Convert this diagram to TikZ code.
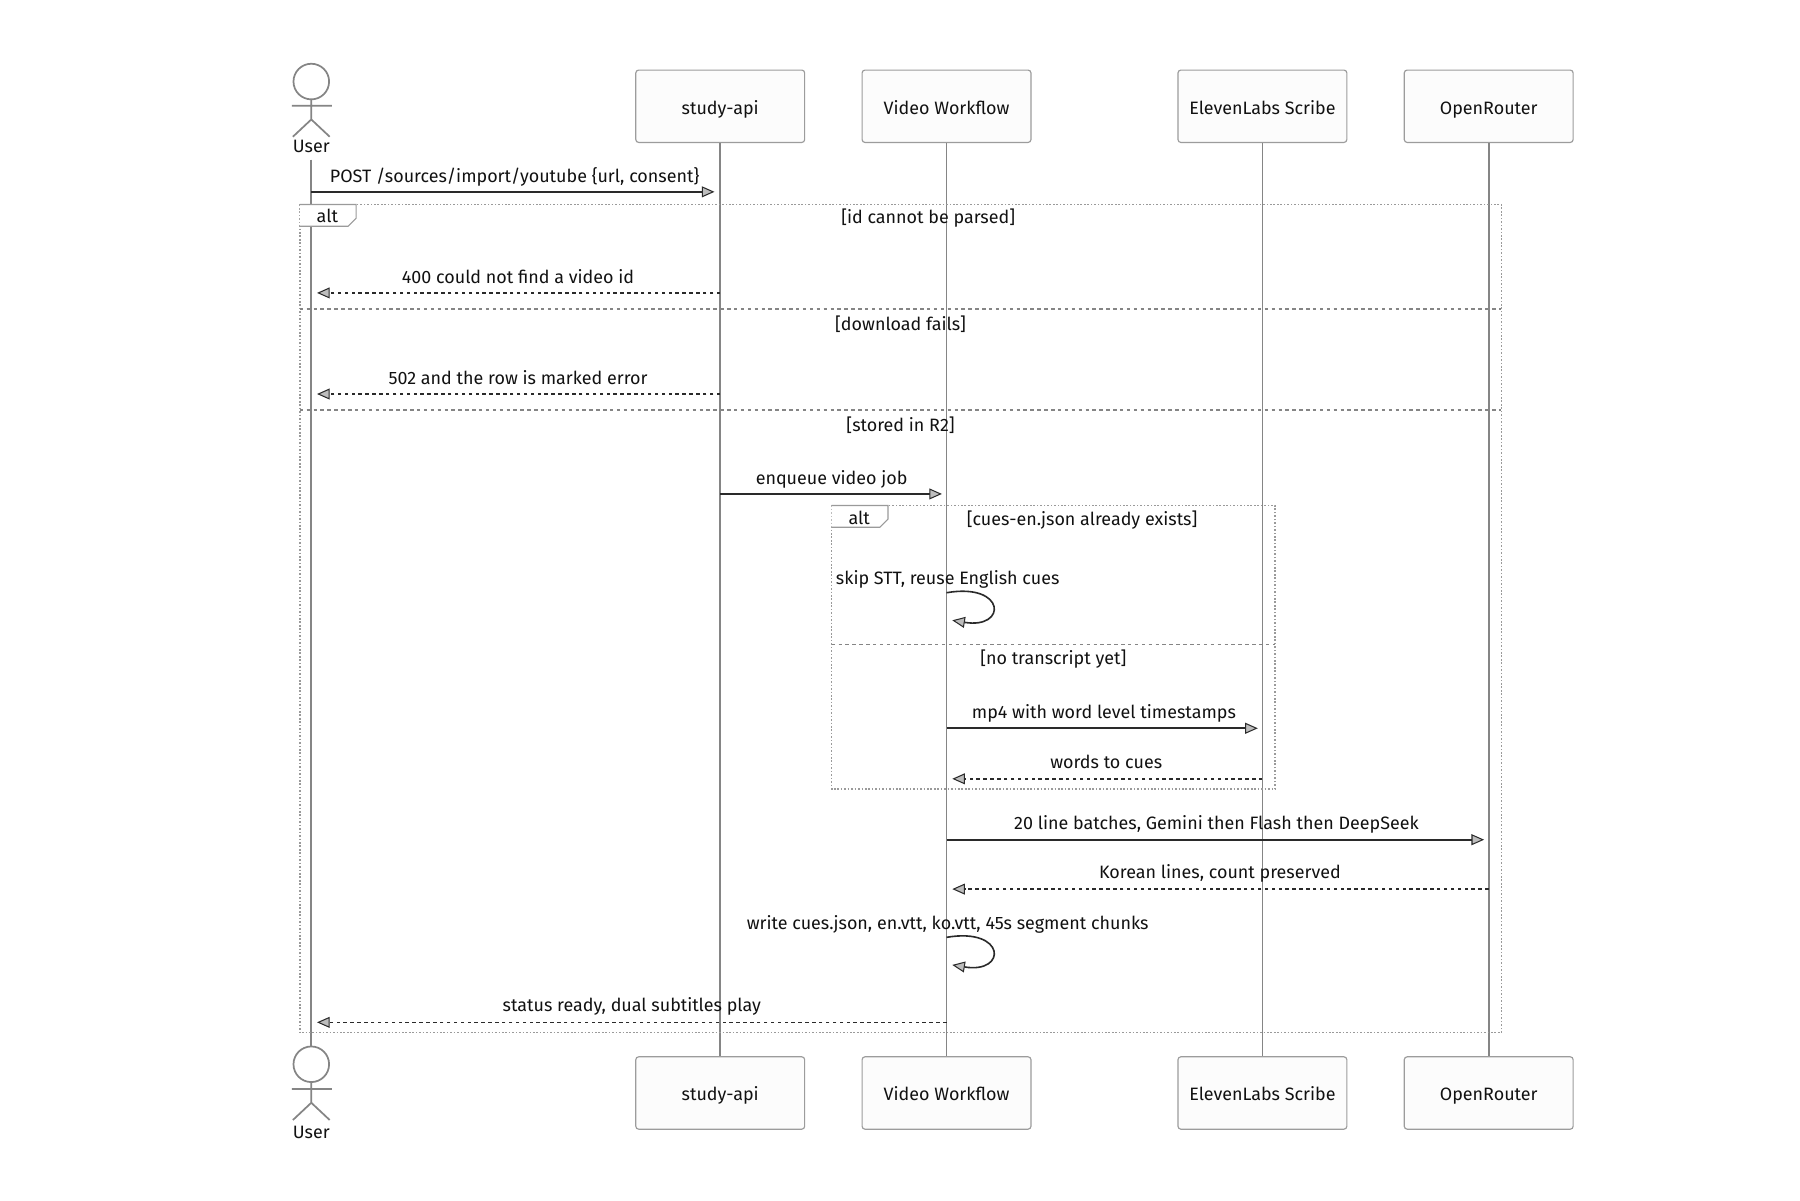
\documentclass[tikz,border=0pt]{standalone}
\usepackage{fontspec}
\setmainfont{Fira Sans}
\usetikzlibrary{arrows.meta,calc}
\definecolor{boxline}{HTML}{9C9C9C}
\definecolor{boxfill}{HTML}{FCFCFC}
\definecolor{lifeline}{HTML}{858585}
\definecolor{msgcol}{HTML}{2A2A2A}
\definecolor{txtcol}{HTML}{111111}
\definecolor{tipfill}{HTML}{BDBDBD}
\definecolor{framecol}{HTML}{9A9A9A}
\definecolor{sepcol}{HTML}{858585}
\tikzset{
  actorbox/.style={draw=boxline, fill=boxfill, line width=1pt, rounded corners=2.5pt,
    minimum width=147pt, minimum height=63pt, inner sep=0pt, text=txtcol,
    text height=15.5pt, text depth=0.35ex},
  life/.style={draw=lifeline, line width=1.5pt},
  stick/.style={draw=lifeline, line width=1.5pt},
  lbl/.style={text=txtcol, inner sep=1pt, text height=1.6ex, text depth=0.35ex, yshift=-2.5pt},
  msg/.style={draw=msgcol, line width=1.4pt,
    -{Triangle[length=11pt,width=9.5pt,fill=tipfill,line width=0.9pt]}},
  reply/.style={msg, dash pattern=on 3pt off 3pt},
  framebox/.style={draw=framecol, line width=1.3pt, dash pattern=on 1.4pt off 1.6pt},
  sepline/.style={draw=sepcol, line width=1.2pt, dash pattern=on 3pt off 3pt},
  tab/.style={draw=framecol, fill=white, line width=1pt},
}
\begin{document}
\begin{tikzpicture}[x=1pt,y=-1pt, font=\fontsize{15.6}{18}\selectfont]
\useasboundingbox (0,0) rectangle (1567,1045);
\fill[white] (0,0) rectangle (1567,1045);

% participant boxes
\node[actorbox] (sT) at (627,92.5) {study-api};
\node[actorbox] (vT) at (824,92.5) {Video Workflow};
\node[actorbox] (eT) at (1099,92.5) {ElevenLabs Scribe};
\node[actorbox] (oT) at (1296,92.5) {OpenRouter};
\node[actorbox] (sB) at (627,951.5) {study-api};
\node[actorbox] (vB) at (824,951.5) {Video Workflow};
\node[actorbox] (eB) at (1099,951.5) {ElevenLabs Scribe};
\node[actorbox] (oB) at (1296,951.5) {OpenRouter};

% user actors
\coordinate (uT) at (271,139);
\coordinate (uB) at (271,911);
\draw[stick] (271,71) circle[radius=15.5];
\draw[stick] (271,86.5) -- (271,104) (254,92) -- (289,92)
  (255,119) -- (271,104) -- (287,119);
\node[lbl] (uTl) at (271,127) {User};
\draw[stick] (271,926.5) circle[radius=15.5];
\draw[stick] (271,942) -- (271,960) (254,948) -- (289,948)
  (255,975) -- (271,960) -- (287,975);
\node[lbl] (uBl) at (271,985) {User};

% lifelines
\draw[life] (uT) -- (uB);
\draw[life] (sT.south) -- (sB.north);
\draw[life] (vT.south) -- (vB.north);
\draw[life] (eT.south) -- (eB.north);
\draw[life] (oT.south) -- (oB.north);

% outer alt frame
\draw[framebox] (261,178) rectangle (1307,899);
\draw[tab] (261,178) -- (310,178) -- (310,190) -- (303,197) -- (261,197);
\node[lbl] (alt1) at (285,188) {alt};
\node[lbl] (g1) at (808,189) {[id cannot be parsed]};
\draw[sepline] (261,269) -- (1307,269);
\node[lbl] (g2) at (784,282) {[download fails]};
\draw[sepline] (261,357) -- (1307,357);
\node[lbl] (g3) at (784,370) {[stored in R2]};

% inner alt frame
\draw[framebox] (724,440) rectangle (1110,687);
\draw[tab] (724,440) -- (773,440) -- (773,452) -- (766,459) -- (724,459);
\node[lbl] (alt2) at (748,451) {alt};
\node[lbl] (g4) at (942,452) {[cues-en.json already exists]};
\draw[sepline] (724,561) -- (1110,561);
\node[lbl] (g5) at (917,573) {[no transcript yet]};

% message end points
\coordinate (m1a) at (uT |- 0,167);   \coordinate (m1b) at ($(sT |- 0,167)+(-5,0)$);
\coordinate (m2a) at (sT |- 0,255);   \coordinate (m2b) at ($(uT |- 0,255)+(5,0)$);
\coordinate (m3a) at (sT |- 0,343);   \coordinate (m3b) at ($(uT |- 0,343)+(5,0)$);
\coordinate (m4a) at (sT |- 0,430);   \coordinate (m4b) at ($(vT |- 0,430)+(-4,0)$);
\coordinate (l1a) at (vT |- 0,516);   \coordinate (l1b) at ($(vT |- 0,540)+(5,0)$);
\coordinate (m5a) at (vT |- 0,634);   \coordinate (m5b) at ($(eT |- 0,634)+(-4,0)$);
\coordinate (m6a) at (eT |- 0,678);   \coordinate (m6b) at ($(vT |- 0,678)+(5,0)$);
\coordinate (m7a) at (vT |- 0,731);   \coordinate (m7b) at ($(oT |- 0,731)+(-4,0)$);
\coordinate (m8a) at (oT |- 0,774);   \coordinate (m8b) at ($(vT |- 0,774)+(5,0)$);
\coordinate (l2a) at (vT |- 0,816);   \coordinate (l2b) at ($(vT |- 0,840)+(5,0)$);
\coordinate (m9a) at (vT |- 0,890);   \coordinate (m9b) at ($(uT |- 0,890)+(5,0)$);

% messages
\node[lbl] (t1) at (448,153) {POST /sources/import/youtube \{url, consent\}};
\draw[msg] (m1a) -- (m1b);
\node[lbl] (t2) at (451,241) {400 could not find a video id};
\draw[reply] (m2a) -- (m2b);
\node[lbl] (t3) at (451,329) {502 and the row is marked error};
\draw[reply] (m3a) -- (m3b);
\node[lbl] (t4) at (724,416) {enqueue video job};
\draw[msg] (m4a) -- (m4b);
\node[lbl] (t5) at (825,503) {skip STT, reuse English cues};
\draw[msg] (l1a) .. controls +(52,-9) and +(48,8) .. (l1b);
\node[lbl] (t6) at (961,620) {mp4 with word level timestamps};
\draw[msg] (m5a) -- (m5b);
\node[lbl] (t7) at (963,663) {words to cues};
\draw[reply] (m6a) -- (m6b);
\node[lbl] (t8) at (1059,716) {20 line batches, Gemini then Flash then DeepSeek};
\draw[msg] (m7a) -- (m7b);
\node[lbl] (t9) at (1062,759) {Korean lines, count preserved};
\draw[reply] (m8a) -- (m8b);
\node[lbl] (t10) at (825,803) {write cues.json, en.vtt, ko.vtt, 45s segment chunks};
\draw[msg] (l2a) .. controls +(52,-9) and +(48,8) .. (l2b);
\node[lbl] (t11) at (550,875) {status ready, dual subtitles play};
\draw[reply] (m9a) -- (m9b);
\end{tikzpicture}
\end{document}
